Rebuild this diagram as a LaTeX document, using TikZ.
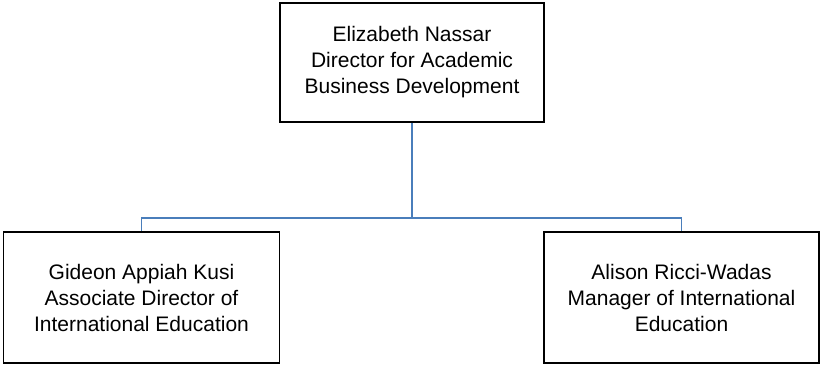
\documentclass[tikz,border=0pt]{standalone}
\usepackage{fontspec}
\setmainfont{Liberation Sans}
\definecolor{connblue}{HTML}{4A7EBB}
\begin{document}
\begin{tikzpicture}[
  person/.style={draw=black, line width=1.6pt, rectangle, align=center, inner sep=0pt,
    font=\fontsize{21}{26}\selectfont},
  conn/.style={draw=connblue, line width=1.8pt}
]
\useasboundingbox (0pt,0pt) rectangle (821pt,-365pt);
\node[person, minimum width=264pt, minimum height=119pt] (top) at (412pt,-62.5pt)
  {Elizabeth Nassar\\Director for Academic\\Business Development};
\node[person, minimum width=276pt, minimum height=131pt] (left) at (141.5pt,-297.5pt)
  {Gideon Appiah Kusi\\Associate Director of\\International Education};
\node[person, minimum width=275pt, minimum height=131pt] (right) at (681.5pt,-297.5pt)
  {Alison Ricci-Wadas\\Manager of International\\Education};
\coordinate (j) at (412pt,-218pt);
\draw[conn] (top.south) -- (j);
\draw[conn] (j) -| (left.north);
\draw[conn] (j) -| (right.north);
\end{tikzpicture}
\end{document}
